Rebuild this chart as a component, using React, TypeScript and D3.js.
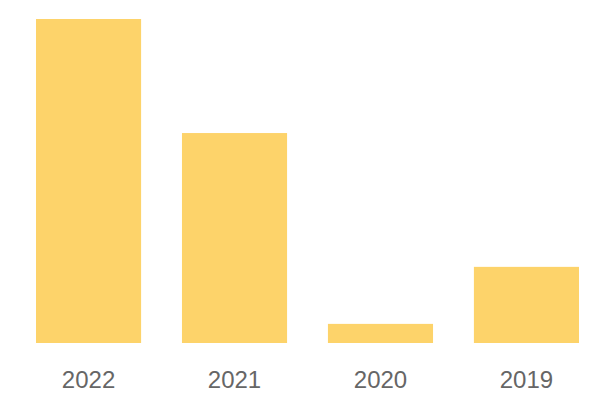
import React from "react";
import * as d3 from "d3";

const categories = ["2022", "2021", "2020", "2019"];
const values = [100, 64.8, 5.9, 23.5];

export default function App() {
  const width = 600;
  const height = 400;
  const x = d3.scaleBand<string>().domain(categories).range([36, 579]).paddingInner(0.28).paddingOuter(0);
  const y = d3.scaleLinear().domain([0, 100]).range([343, 19]);
  return (
    <svg width={width} height={height} style={{ position: "absolute", left: 0, top: 0 }}>
      {categories.map((c, i) => (
        <rect key={c} x={x(c)} y={y(values[i])} width={x.bandwidth()} height={y(0) - y(values[i])} fill="#FDD36A" />
      ))}
      {categories.map((c) => (
        <text key={c} x={(x(c) as number) + x.bandwidth() / 2} y={388} textAnchor="middle"
          fontFamily="'Liberation Sans', Arial, sans-serif" fontSize={24} fill="#666666">{c}</text>
      ))}
    </svg>
  );
}
